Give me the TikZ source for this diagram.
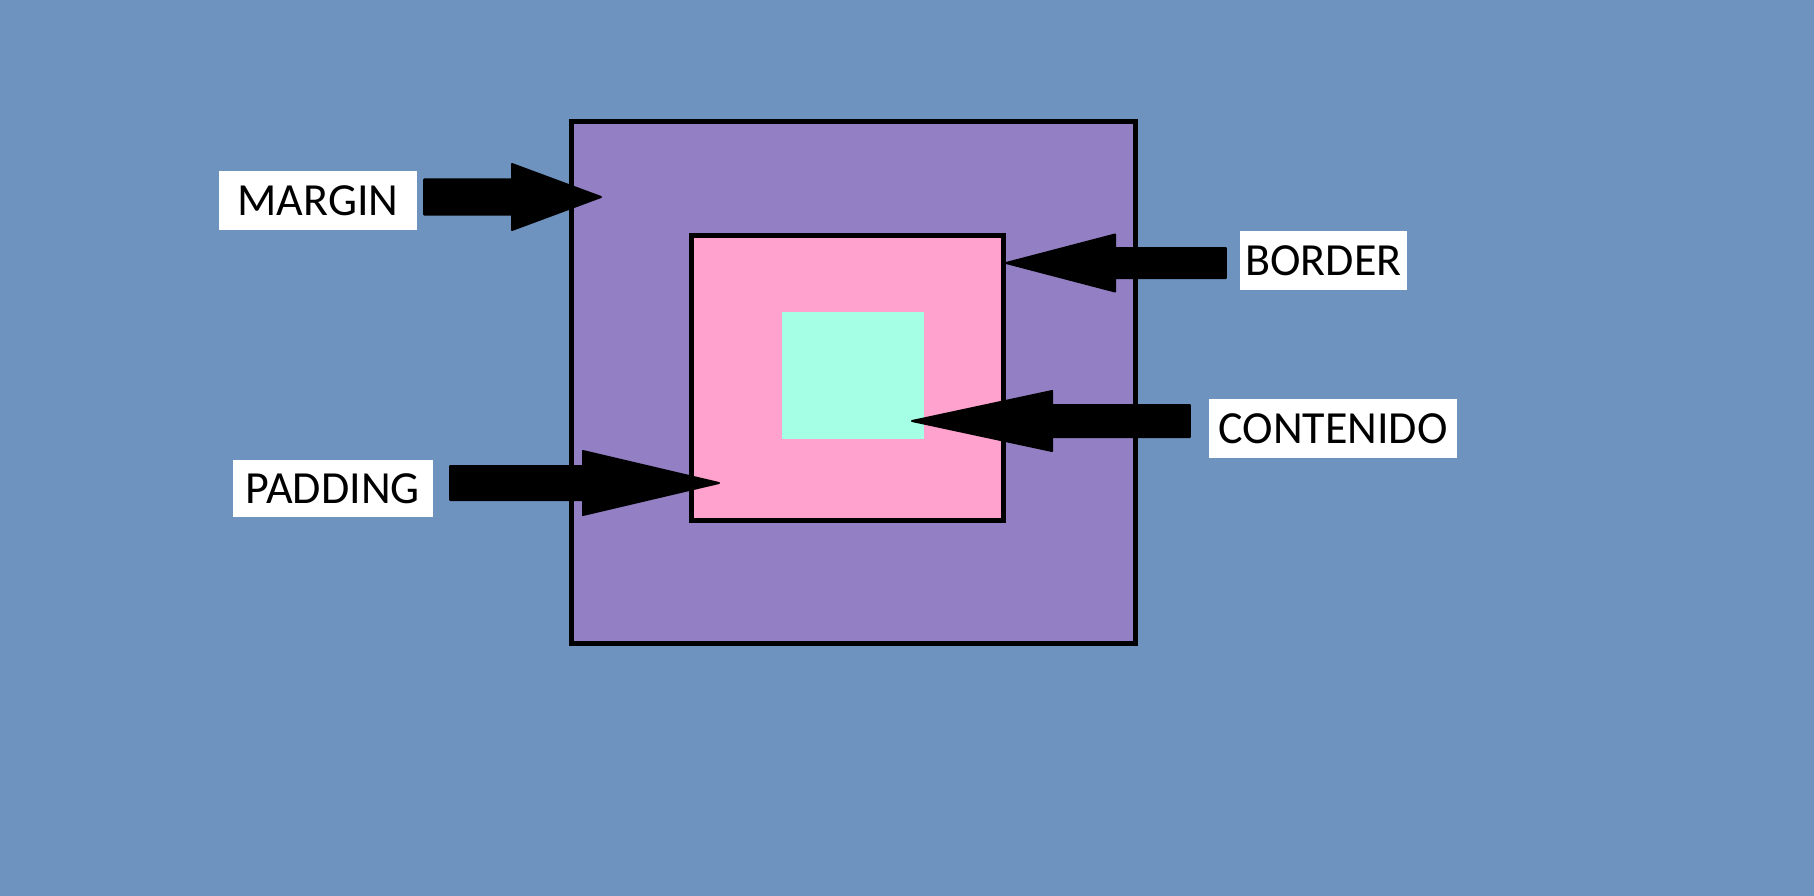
\documentclass[tikz,border=0pt]{standalone}
\usepackage{fontspec}
\setmainfont{Carlito}
\usetikzlibrary{calc}
\definecolor{bgblue}{RGB}{111,147,191}
\definecolor{marginpurple}{RGB}{147,127,196}
\definecolor{paddingpink}{RGB}{255,163,206}
\definecolor{contentmint}{RGB}{165,255,229}
\tikzset{
  boxline/.style={draw=black, line width=5pt},
  lbl/.style={fill=white, inner sep=0pt, font=\fontsize{46}{50}\selectfont, text=black},
  fatarrow/.style={fill=black, draw=black, line width=2pt, line join=round},
}
\newcommand\fatarrow[5]{% start, tip, headlen, headhalf, shafthalf
  \coordinate (hb) at ($(#2)!#3!(#1)$);
  \filldraw[fatarrow] ($(#1)+(0,-#5)$) -- ($(hb)+(0,-#5)$) -- ($(hb)+(0,-#4)$) -- (#2)
    -- ($(hb)+(0,#4)$) -- ($(hb)+(0,#5)$) -- ($(#1)+(0,#5)$) -- cycle;}
\begin{document}
\begin{tikzpicture}[x=1pt,y=-1pt]
\useasboundingbox (0,0) rectangle (1814,896);
\fill[bgblue] (0,0) rectangle (1814,896);
% boxes
\filldraw[boxline, fill=marginpurple] (571.5,121.5) rectangle (1135,643);
\filldraw[boxline, fill=paddingpink] (691.5,235) rectangle (1003.5,520.5);
\fill[contentmint] (782,312) rectangle (924,439);
% labels
\node[lbl, minimum width=198pt, minimum height=59pt] (margin) at (318,200.5) {MARGIN};
\node[lbl, minimum width=167pt, minimum height=59pt] (border) at (1323.5,260.5) {BORDER};
\node[lbl, minimum width=199.5pt, minimum height=57pt] (padding) at (332.75,488.5) {PADDING};
\node[lbl, minimum width=248pt, minimum height=59pt] (contenido) at (1333,428.5) {CONTENIDO};
% arrow tips
\coordinate (mtip) at (601,197);
\coordinate (btip) at (1006,263);
\coordinate (ptip) at (719,483);
\coordinate (ctip) at (912,421);
\coordinate (mx) at ($(margin.east)+(7,0)$);
\coordinate (bx) at ($(border.west)+(-14,0)$);
\coordinate (px) at ($(padding.east)+(17.5,0)$);
\coordinate (cx) at ($(contenido.west)+(-19,0)$);
\coordinate (mstart) at (mtip -| mx);
\coordinate (bstart) at (btip -| bx);
\coordinate (pstart) at (ptip -| px);
\coordinate (cstart) at (ctip -| cx);
\fatarrow{mstart}{mtip}{89pt}{33}{17.5}
\fatarrow{bstart}{btip}{109pt}{28.5}{15}
\fatarrow{pstart}{ptip}{136pt}{32}{17}
\fatarrow{cstart}{ctip}{140pt}{30}{16}
\end{tikzpicture}
\end{document}
